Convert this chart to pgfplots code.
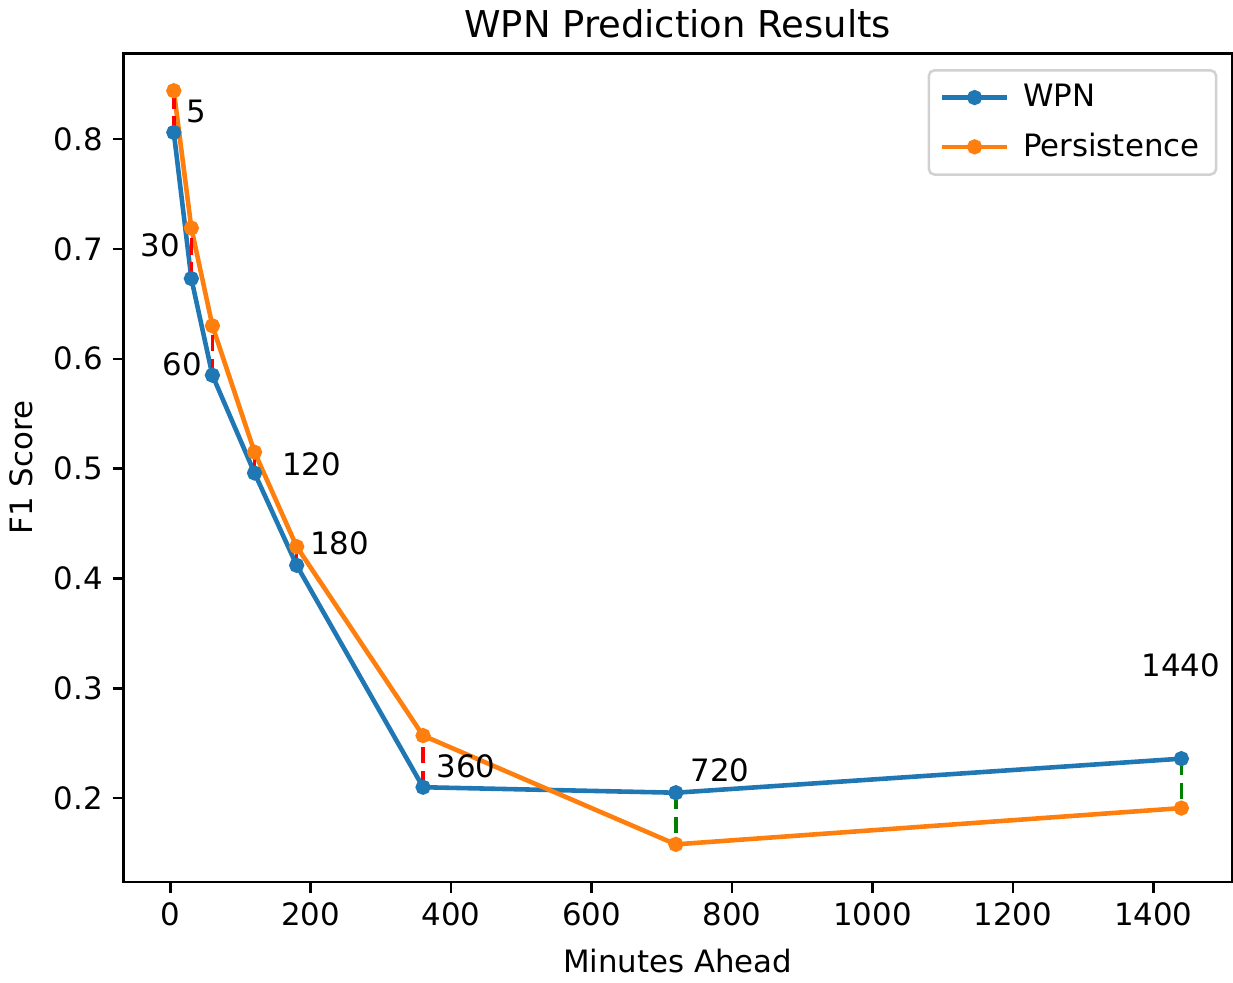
\documentclass[border=0pt]{standalone}
\usepackage{pgfplots}
\pgfplotsset{compat=1.18}
\usepackage{fontspec}
\setmainfont{DejaVu Sans}
\definecolor{tabblue}{HTML}{1F77B4}
\definecolor{taborange}{HTML}{FF7F0E}
\definecolor{mplgreen}{HTML}{008000}
\begin{document}
\begin{tikzpicture}
\begin{axis}[
    scale only axis,
    width=140.3mm, height=104.9mm,
    xmin=-66.75, xmax=1511.75,
    ymin=0.1237, ymax=0.878,
    xtick={0,200,...,1400},
    ytick={0.2,0.3,...,0.8},
    /pgf/number format/assume math mode=true,
    /pgf/number format/1000 sep={},
    yticklabel style={/pgf/number format/fixed,/pgf/number format/fixed zerofill,/pgf/number format/precision=1},
    tick align=outside, major tick length=3.9pt,
    tick style={black, line width=0.9pt},
    xtick pos=bottom, ytick pos=left,
    axis line style={line width=0.9pt},
    ticklabel style={font=\fontsize{11.1}{13}\selectfont},
    every axis title shift=0pt,
    title={WPN Prediction Results},
    title style={font=\fontsize{13.3}{16}\selectfont, at={(axis description cs:0.5,1.036)}, anchor=center},
    xlabel={Minutes Ahead},
    xlabel style={font=\fontsize{11.1}{13}\selectfont, at={(axis description cs:0.5,-0.0956)}, anchor=center},
    ylabel={F1 Score},
    ylabel style={font=\fontsize{11.1}{13}\selectfont, at={(axis description cs:-0.0925,0.5)}, anchor=center, rotate=0},
    legend style={at={(axis description cs:0.987,0.981)}, anchor=north east,
        draw=black!18, rounded corners=2pt, line width=0.9pt,
        font=\fontsize{11.1}{13}\selectfont, row sep=4pt, inner xsep=4pt, inner ysep=3pt,
        /tikz/every odd column/.append style={column sep=3pt}},
    legend cell align=left,
    legend image code/.code={
        \draw[#1] (0cm,0cm) -- (0.82cm,0cm);
        \filldraw[#1, solid] (0.41cm,0cm) circle (1.9pt);
    },
]
\addplot[tabblue, line width=1.65pt, mark=*, mark size=1.9pt] coordinates {
(5,0.806) (30,0.673) (60,0.585) (120,0.496) (180,0.412) (360,0.210) (720,0.205) (1440,0.236)};
\addlegendentry{WPN}
\addplot[taborange, line width=1.65pt, mark=*, mark size=1.9pt] coordinates {
(5,0.844) (30,0.719) (60,0.630) (120,0.515) (180,0.429) (360,0.257) (720,0.158) (1440,0.191)};
\addlegendentry{Persistence}
% difference markers
\pgfplotsset{diff/.style={line width=1.3pt, dash pattern=on 6pt off 2.6pt, forget plot}}
\addplot[red, diff] coordinates {(5,0.806) (5,0.844)};
\addplot[red, diff] coordinates {(30,0.673) (30,0.719)};
\addplot[red, diff] coordinates {(60,0.585) (60,0.630)};
\addplot[red, diff] coordinates {(120,0.496) (120,0.515)};
\addplot[red, diff] coordinates {(180,0.412) (180,0.429)};
\addplot[red, diff] coordinates {(360,0.210) (360,0.257)};
\addplot[mplgreen, diff] coordinates {(720,0.205) (720,0.158)};
\addplot[mplgreen, diff] coordinates {(1440,0.236) (1440,0.191)};
% horizon labels
\begin{scope}[every node/.style={font=\fontsize{11.1}{13}\selectfont, anchor=center}]
\node at (axis cs:37,0.825) {5};
\node at (axis cs:-14,0.703) {30};
\node at (axis cs:17,0.595) {60};
\node at (axis cs:201,0.504) {120};
\node at (axis cs:241,0.432) {180};
\node at (axis cs:421,0.229) {360};
\node at (axis cs:783,0.225) {720};
\node at (axis cs:1439,0.321) {1440};
\end{scope}
\end{axis}
\end{tikzpicture}
\end{document}
